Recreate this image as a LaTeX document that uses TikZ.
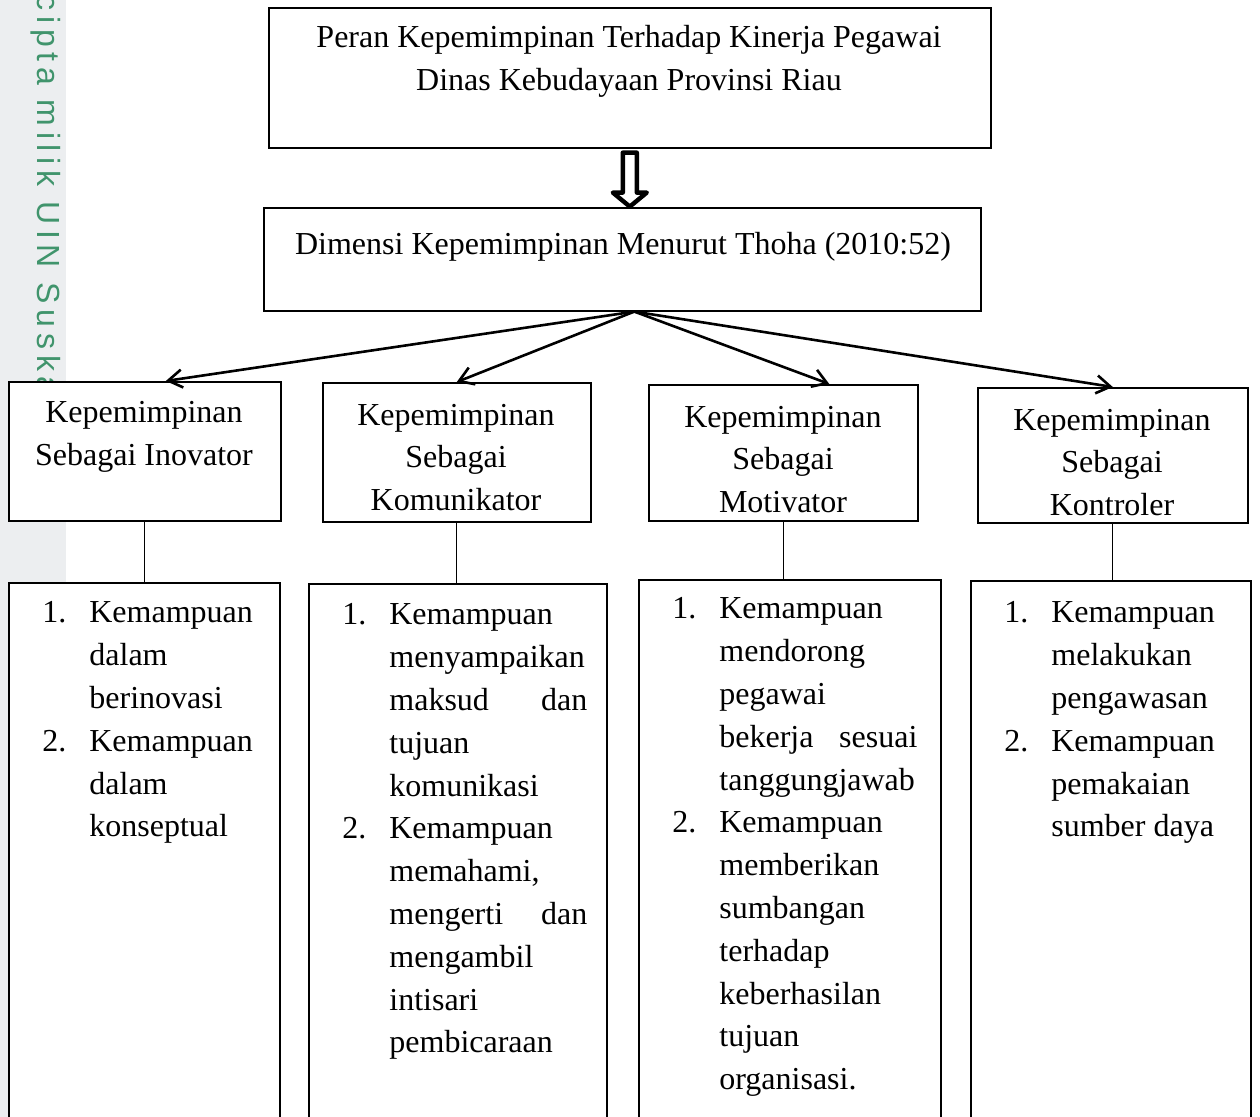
\documentclass[tikz,border=0pt]{standalone}
\usepackage{fontspec}
\setmainfont{Liberation Serif}
\newfontfamily\wmfont[LetterSpace=18]{Liberation Sans}
\usepackage{xcolor}
\usepackage{array}
\usepackage{tikz}
\usetikzlibrary{arrows.meta,positioning,calc}
\definecolor{wmhijau}{RGB}{64,148,108}
\definecolor{wmabu}{RGB}{236,238,240}
\newenvironment{butir}{\begin{tabular}[t]{@{}p{23.5pt}@{}p{99pt}@{}}}{\end{tabular}}

\begin{document}
\begin{tikzpicture}[
    x=0.5pt, y=0.5pt,
    font=\fontsize{16}{21.4}\selectfont,
    kotak/.style={draw, fill=white, line width=0.8pt, inner sep=0pt, anchor=north west},
    judul/.style={align=center, inner sep=0pt},
    daftar/.style={inner sep=0pt, anchor=base west},
    panah/.style={-{Straight Barb[length=7pt,width=9pt]}, line width=1.3pt},
    garis/.style={line width=0.65pt},
    panahkosong/.style={draw, fill=white, line width=2.2pt, line join=round}
]
    \useasboundingbox (0,0) rectangle (1260,-1117);
    \clip (0,0) rectangle (1260,-1117);

    % Watermark strip
    \fill[wmabu] (0,0) rectangle (66,-1117);
    \node[rotate=-90, anchor=base west, inner sep=0pt, text=wmhijau,
          font=\wmfont\fontsize{16}{16}\selectfont] (wm) at (37,89) {Hak cipta milik UIN Suska Riau};

    % Top boxes
    \node[kotak, minimum width=361pt, minimum height=70pt] (atas) at (268,-7) {};
    \node[judul] (atas-t) at (629,-61) {Peran Kepemimpinan Terhadap Kinerja Pegawai\\Dinas Kebudayaan Provinsi Riau};
    \node[kotak, minimum width=358.5pt, minimum height=51.5pt] (dimensi) at (263,-207) {};
    \node[judul] (dimensi-t) at (623,-247) {Dimensi Kepemimpinan Menurut Thoha (2010:52)};

    \draw[panahkosong, shift={(atas.south)}] (-7,-4) -- (-7,-44) -- (-17,-44) -- (0,-58)
        -- (17,-44) -- (7,-44) -- (7,-4) -- cycle;

    % Dimensions
    \node[kotak, minimum width=136pt, minimum height=69.5pt] (u1) at (8,-381) {};
    \node[judul] (u1-t) at (144,-436.5) {Kepemimpinan\\Sebagai Inovator};
    \node[kotak, minimum width=134pt, minimum height=69.5pt] (u2) at (322,-382) {};
    \node[judul] (u2-t) at (456,-457.5) {Kepemimpinan\\Sebagai\\Komunikator};
    \node[kotak, minimum width=134.5pt, minimum height=68pt] (u3) at (648,-384) {};
    \node[judul] (u3-t) at (783,-459.5) {Kepemimpinan\\Sebagai\\Motivator};
    \node[kotak, minimum width=135pt, minimum height=67.5pt] (u4) at (977,-387) {};
    \node[judul] (u4-t) at (1112,-462.5) {Kepemimpinan\\Sebagai\\Kontroler};

    \coordinate (pusat) at ([xshift=6pt]dimensi.south);
    \draw[panah] (pusat) -- ([xshift=10.5pt]u1.north);
    \draw[panah] (pusat) -- (u2.north);
    \draw[panah] (pusat) -- ([xshift=23pt]u3.north);
    \draw[panah] (pusat) -- (u4.north);

    % Indicators
    \node[kotak, minimum width=135.5pt, minimum height=274pt] (d1) at (8,-582) {};
    \node[daftar] (d1-t) at (42,-623) {\begin{butir}
        1. & Kemampuan\\ & dalam\\ & berinovasi\\
        2. & Kemampuan\\ & dalam\\ & konseptual
    \end{butir}};
    \node[kotak, minimum width=149pt, minimum height=274pt] (d2) at (308,-583) {};
    \node[daftar] (d2-t) at (342,-625) {\begin{butir}
        1. & Kemampuan\\ & menyampaikan\\ & maksud\hfill dan\\ & tujuan\\ & komunikasi\\
        2. & Kemampuan\\ & memahami,\\ & mengerti\hfill dan\\ & mengambil\\ & intisari\\ & pembicaraan
    \end{butir}};
    \node[kotak, minimum width=151pt, minimum height=274pt] (d3) at (638,-579) {};
    \node[daftar] (d3-t) at (672,-619) {\begin{butir}
        1. & Kemampuan\\ & mendorong\\ & pegawai\\ & bekerja\hfill sesuai\\ & tanggungjawab\\
        2. & Kemampuan\\ & memberikan\\ & sumbangan\\ & terhadap\\ & keberhasilan\\ & tujuan\\ & organisasi.
    \end{butir}};
    \node[kotak, minimum width=140pt, minimum height=274pt] (d4) at (970,-580) {};
    \node[daftar] (d4-t) at (1004,-623) {\begin{butir}
        1. & Kemampuan\\ & melakukan\\ & pengawasan\\
        2. & Kemampuan\\ & pemakaian\\ & sumber daya
    \end{butir}};

    \draw[garis] (u1.south) -- (u1.south |- d1.north);
    \draw[garis] (u2.south) -- (u2.south |- d2.north);
    \draw[garis] (u3.south) -- (u3.south |- d3.north);
    \draw[garis] (u4.south) -- (u4.south |- d4.north);
\end{tikzpicture}
\end{document}
